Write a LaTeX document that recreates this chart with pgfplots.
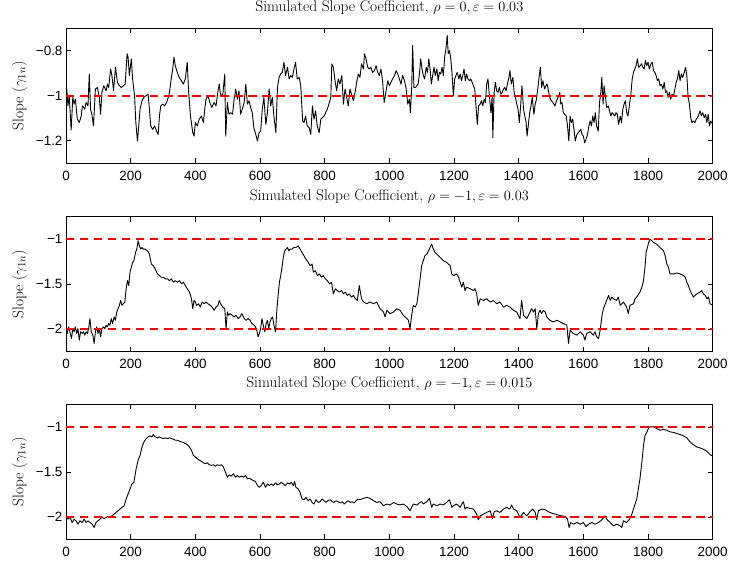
\documentclass[border=0pt]{standalone}
\usepackage{pgfplots}
\pgfplotsset{compat=1.18}
\usepackage{fontspec}
\newfontfamily\arial{Liberation Sans}
\definecolor{refred}{rgb}{1,0,0}
\begin{document}
\begin{tikzpicture}
\pgfplotsset{
  panel/.style={
    scale only axis, width=646.7bp, height=135bp,
    xmin=0, xmax=2000,
    xtick={0,200,...,2000},
    xticklabels={0,200,400,600,800,1000,1200,1400,1600,1800,2000},
    tick align=inside,
    major tick length=5bp,
    tick style={black, line width=0.6bp},
    axis line style={line width=0.6bp},
    ticklabel style={font=\fontsize{13.5}{15}\selectfont\arial},
    xticklabel shift=4bp,
    ylabel={Slope ($\gamma_{1n}$)},
    ylabel style={at={(axis description cs:-0.072,0.5)}, anchor=center, font=\fontsize{15.5}{17}\selectfont},
    title style={at={(axis description cs:0.5,1)}, anchor=base, yshift=10.5bp, font=\fontsize{15.5}{17}\selectfont},
  },
  dat/.style={draw=black, line width=0.9bp, line join=round},
  refl/.style={draw=refred, line width=1.7bp, dash pattern=on 8.5bp off 5.5bp},
}
% ---------- Panel 1 ----------
\begin{axis}[panel, at={(0,0)}, anchor=north west,
  ymin=-1.3, ymax=-0.7, ytick={-1.2,-1,-0.8}, yticklabels={−1.2,−1,−0.8},
  title={Simulated Slope Coefficient, $\rho=0, \varepsilon=0.03$}]
\addplot[dat] coordinates {
(0,-0.97) (2,-0.963) (6,-1.045) (10,-1.000) (16,-1.152) (21,-1.007) (25,-1.037) (29,-1.015) (35,-1.104) (41,-1.119) (47,-1.090) (51,-1.045) (58,-1.060) (62,-1.030) (68,-1.045) (72,-0.903) (76,-1.060) (80,-1.082) (85,-1.134) (91,-0.970) (97,-0.963) (103,-1.007) (107,-1.082) (111,-0.985) (117,-0.955) (124,-0.978) (128,-0.948) (132,-0.963) (138,-0.881) (142,-0.910) (147,-0.978) (153,-0.873) (159,-0.940) (165,-0.955) (171,-0.963) (178,-0.955) (183,-0.948) (189,-0.813) (192,-0.828) (196,-0.910) (202,-0.836) (206,-0.925) (212,-1.000) (216,-1.119) (221,-1.201) (225,-1.134) (229,-1.060) (235,-1.022) (241,-1.007) (247,-1.000) (254,-0.993) (258,-1.060) (262,-1.134) (268,-1.149) (274,-1.134) (280,-1.157) (285,-1.172) (289,-1.090) (293,-1.045) (299,-1.037) (305,-1.045) (311,-1.030) (318,-1.000) (322,-0.963) (326,-0.918) (330,-0.881) (334,-0.828) (338,-0.866) (344,-0.896) (350,-0.918) (357,-0.933) (363,-0.948) (369,-0.925) (375,-0.851) (379,-0.978) (385,-1.090) (392,-1.164) (396,-1.179) (400,-1.119) (406,-1.134) (412,-1.104) (419,-1.090) (425,-1.119) (429,-1.060) (433,-1.015) (439,-1.000) (445,-1.030) (451,-1.052) (458,-1.030) (464,-1.045) (470,-0.978) (474,-0.948) (478,-1.000) (485,-0.993) (491,-0.903)
(494,-1.179) (499,-1.030) (504,-1.082) (509,-1.075) (515,-1.082) (520,-1.015) (525,-0.970) (530,-1.015) (535,-0.978) (540,-1.082) (545,-1.060) (551,-1.030) (556,-0.948) (561,-1.037) (566,-1.022) (571,-1.052) (576,-1.075) (581,-1.142) (587,-1.172) (592,-1.201) (597,-1.164) (602,-1.157) (607,-1.060) (612,-1.007) (618,-1.127) (623,-1.075) (628,-0.970) (633,-1.045) (638,-1.007) (643,-1.090) (649,-1.164) (654,-0.963) (659,-0.918) (664,-0.903) (669,-0.896) (674,-0.851) (679,-0.910) (685,-0.873) (690,-0.925) (695,-0.910) (700,-0.918) (705,-0.881) (710,-0.851) (715,-0.925) (721,-0.918) (726,-0.955) (729,-1.037) (732,-1.112) (736,-1.119) (741,-1.090) (746,-1.134) (752,-1.142) (757,-1.172) (762,-1.045) (767,-1.104) (772,-1.067) (777,-1.134) (783,-1.164) (788,-1.104) (793,-1.097) (798,-1.090) (803,-1.075) (808,-1.060) (813,-1.037) (819,-1.007) (822,-0.858) (827,-0.873) (832,-0.933) (837,-0.978) (842,-0.925) (847,-0.948) (853,-0.910) (858,-1.037) (863,-0.970) (868,-1.007) (873,-1.045) (878,-0.970) (883,-0.993) (889,-1.022) (894,-0.985) (899,-0.940) (904,-0.903) (909,-0.918) (914,-0.858) (920,-0.881) (923,-0.813) (928,-0.836) (933,-0.873) (938,-0.881) (943,-0.873) (948,-0.896) (954,-0.888) (959,-0.866) (964,-0.896) (969,-0.910) (974,-0.881) (979,-0.933) (984,-1.030) (990,-0.978) (995,-0.933) (1000,-0.955)
(1005,-0.940) (1010,-0.925) (1016,-0.910) (1021,-0.888) (1026,-0.903) (1031,-0.925) (1036,-0.948) (1041,-0.910) (1047,-0.933) (1052,-0.970) (1057,-1.037) (1062,-1.015) (1065,-1.075) (1069,-0.970) (1072,-0.776) (1076,-0.963) (1081,-0.963) (1085,-0.955) (1089,-0.948) (1093,-0.903) (1097,-0.836) (1101,-0.881) (1105,-0.910) (1109,-0.925) (1114,-0.873) (1118,-0.896) (1122,-0.836) (1126,-0.881) (1130,-0.948) (1134,-0.910) (1138,-0.873) (1142,-0.910) (1147,-0.881) (1151,-0.933) (1155,-0.896) (1159,-0.903) (1163,-0.873) (1167,-0.910) (1171,-0.828) (1175,-0.791) (1179,-0.731) (1182,-0.813) (1186,-0.799) (1190,-0.836) (1194,-0.903) (1198,-1.000) (1202,-0.925) (1206,-0.910) (1210,-0.896) (1215,-0.925) (1219,-0.903) (1223,-0.933) (1227,-0.910) (1231,-0.881) (1235,-0.933) (1239,-0.903) (1243,-0.925) (1248,-0.933) (1252,-0.925) (1256,-0.940) (1260,-0.955) (1264,-0.970) (1268,-1.045) (1272,-1.127) (1276,-1.045) (1281,-1.037) (1285,-1.022) (1289,-1.045) (1293,-1.015) (1297,-1.030) (1301,-0.948) (1305,-0.925) (1309,-0.993) (1314,-1.075) (1318,-1.000) (1320,-1.187) (1324,-0.985) (1328,-0.940) (1332,-0.978) (1336,-0.985) (1340,-0.963) (1345,-0.993) (1349,-0.985) (1353,-0.970) (1357,-0.963) (1361,-0.978) (1365,-0.948) (1369,-0.925) (1373,-0.888) (1377,-0.948) (1382,-0.918) (1386,-0.985) (1390,-1.007) (1394,-1.037) (1398,-1.060) (1402,-1.119) (1406,-1.045) (1410,-0.955) (1415,-1.060) (1419,-1.090) (1423,-1.119) (1426,-1.179) (1430,-1.127) (1434,-1.075) (1438,-1.045) (1442,-1.007) (1447,-1.082) (1451,-1.037) (1455,-1.015) (1459,-0.970) (1463,-0.918) (1467,-0.873) (1471,-0.963) (1475,-0.933) (1480,-0.970) (1484,-0.955) (1488,-0.948) (1492,-0.978)
(1496,-1.007) (1501,-1.022) (1506,-1.030) (1512,-1.045) (1517,-1.022) (1522,-1.007) (1527,-0.985) (1530,-1.037) (1534,-1.030) (1538,-1.075) (1542,-1.082) (1547,-1.090) (1551,-1.134) (1555,-1.201) (1559,-1.090) (1563,-1.119) (1567,-1.104) (1571,-1.149) (1575,-1.201) (1580,-1.172) (1584,-1.164) (1588,-1.157) (1592,-1.149) (1596,-1.172) (1600,-1.179) (1604,-1.209) (1608,-1.194) (1613,-1.172) (1617,-1.134) (1621,-1.112) (1625,-1.134) (1629,-1.090) (1633,-1.119) (1637,-1.075) (1641,-1.134) (1646,-1.157) (1650,-1.030) (1654,-0.985) (1657,-0.918) (1661,-1.037) (1664,-0.955) (1668,-1.000) (1672,-1.052) (1677,-1.045) (1681,-1.067) (1685,-1.090) (1689,-1.075) (1693,-1.082) (1697,-1.090) (1701,-1.075) (1705,-1.082) (1709,-1.127) (1714,-1.090) (1718,-1.119) (1722,-1.060) (1726,-1.037) (1730,-1.022) (1734,-1.075) (1738,-1.090) (1742,-1.045) (1747,-0.993) (1751,-0.925) (1755,-0.896) (1759,-0.881) (1763,-0.866) (1767,-0.836) (1771,-0.873) (1776,-0.866) (1780,-0.858) (1784,-0.873) (1788,-0.881) (1792,-0.843) (1796,-0.866) (1800,-0.851) (1804,-0.881) (1809,-0.858) (1813,-0.851) (1817,-0.888) (1821,-0.896) (1825,-0.910) (1829,-0.933) (1833,-0.925) (1837,-0.955) (1841,-0.948) (1846,-0.970) (1850,-0.940) (1854,-0.985) (1858,-0.978) (1862,-1.007) (1866,-0.985) (1870,-1.015) (1874,-0.993) (1879,-1.000) (1883,-0.970) (1887,-0.940) (1891,-0.925) (1895,-0.888) (1899,-0.933) (1903,-0.903) (1907,-0.918) (1912,-0.896) (1916,-0.873) (1920,-0.910) (1924,-1.007) (1928,-1.037) (1932,-1.097) (1936,-1.119) (1940,-1.112) (1945,-1.119) (1949,-1.104) (1953,-1.097) (1957,-1.082) (1961,-1.067) (1965,-1.090) (1969,-1.075) (1974,-1.097) (1978,-1.082) (1982,-1.119) (1986,-1.082) (1990,-1.134) (1994,-1.112) (2000,-1.127)
};
\addplot[refl] coordinates {(0,-1) (2000,-1)};
\end{axis}
% ---------- Panel 2 ----------
\begin{axis}[panel, at={(0,-188.4bp)}, anchor=north west,
  ymin=-2.25, ymax=-0.75, ytick={-2,-1.5,-1}, yticklabels={−2,−1.5,−1},
  title={Simulated Slope Coefficient, $\rho=-1, \varepsilon=0.03$}]
\addplot[dat] coordinates {
(0,-1.993) (4,-2.048) (8,-1.974) (12,-2.029) (17,-2.103) (21,-1.993) (25,-2.029) (29,-1.974) (33,-2.048) (37,-1.993) (41,-2.121) (45,-2.029) (50,-2.048) (54,-2.029) (58,-2.066) (62,-2.029) (66,-2.048) (70,-1.993) (74,-1.882) (78,-2.029) (83,-2.066) (87,-2.158) (91,-2.029) (95,-1.974) (99,-2.048) (103,-1.993) (107,-2.084) (111,-1.993) (116,-1.974) (120,-1.993) (124,-1.956) (128,-1.974) (132,-1.937) (136,-1.956) (140,-1.882) (144,-1.937) (149,-1.864) (153,-1.901) (157,-1.809) (161,-1.772) (165,-1.735) (169,-1.680) (173,-1.735) (177,-1.717) (182,-1.698) (186,-1.551) (190,-1.460) (194,-1.515) (198,-1.368) (202,-1.312) (206,-1.257) (210,-1.239) (215,-1.147) (219,-1.110) (223,-1.018) (227,-1.074) (231,-1.110) (235,-1.092) (239,-1.110) (245,-1.110) (252,-1.129) (258,-1.165) (264,-1.276) (270,-1.294) (276,-1.331) (283,-1.386) (289,-1.404) (295,-1.423) (301,-1.423) (307,-1.441) (314,-1.441) (320,-1.460) (326,-1.441) (332,-1.478) (338,-1.460) (344,-1.478) (351,-1.460) (357,-1.496) (363,-1.478) (369,-1.515) (375,-1.551) (382,-1.588) (388,-1.662) (392,-1.772) (396,-1.680) (400,-1.698) (404,-1.735) (410,-1.717) (415,-1.754) (421,-1.698) (427,-1.717) (433,-1.698) (439,-1.717) (446,-1.735) (452,-1.754) (458,-1.790) (464,-1.754) (470,-1.735) (474,-1.680) (478,-1.717) (485,-1.754) (491,-1.772) (495,-1.993) (499,-1.809) (503,-1.845) (507,-1.827) (514,-1.845) (520,-1.864) (526,-1.845) (532,-1.882) (538,-1.864) (544,-1.827) (551,-1.882) (557,-1.901) (563,-1.882) (569,-1.901) (575,-1.937) (582,-1.956) (586,-1.974) (590,-2.011) (594,-2.084) (598,-2.048) (602,-1.993) (606,-1.882) (610,-1.956) (615,-2.029) (619,-1.937) (623,-1.901) (627,-1.993) (631,-1.919) (635,-1.882) (639,-1.864) (643,-1.956) (648,-2.029) (652,-1.790) (656,-1.625) (660,-1.478) (664,-1.404) (668,-1.312) (672,-1.202) (676,-1.129) (681,-1.110) (685,-1.092) (689,-1.129) (693,-1.110) (699,-1.110) (705,-1.092) (711,-1.092) (718,-1.074) (724,-1.110) (730,-1.147) (736,-1.184) (742,-1.221) (749,-1.257) (755,-1.294) (761,-1.276) (765,-1.368) (771,-1.349) (778,-1.404) (784,-1.386) (790,-1.423) (796,-1.404) (802,-1.441) (808,-1.460) (815,-1.496) (821,-1.478) (827,-1.607) (833,-1.551) (839,-1.570) (845,-1.588) (852,-1.570) (858,-1.607) (864,-1.588) (870,-1.625) (876,-1.607) (883,-1.643) (889,-1.625) (895,-1.662) (901,-1.680) (907,-1.515) (914,-1.662) (920,-1.698) (930,-1.717) (940,-1.698) (951,-1.717) (961,-1.698) (971,-1.772) (982,-1.809) (987,-1.864) (992,-1.790) (1002,-1.827) (1013,-1.809) (1023,-1.772) (1033,-1.790) (1043,-1.845) (1054,-1.882) (1059,-1.901) (1064,-1.993) (1069,-1.845) (1074,-1.735) (1080,-1.754) (1085,-1.717) (1090,-1.588) (1095,-1.441) (1100,-1.294) (1105,-1.239) (1110,-1.184) (1116,-1.165) (1121,-1.129) (1126,-1.092) (1131,-1.055) (1136,-1.110) (1141,-1.147) (1147,-1.165) (1157,-1.202) (1167,-1.239) (1177,-1.257) (1188,-1.294) (1193,-1.386) (1198,-1.404) (1208,-1.386) (1214,-1.423) (1219,-1.478) (1224,-1.533) (1229,-1.478) (1234,-1.570) (1239,-1.533) (1250,-1.551) (1260,-1.570) (1265,-1.551) (1270,-1.607) (1275,-1.735) (1281,-1.662) (1291,-1.680) (1301,-1.662) (1312,-1.698) (1322,-1.680) (1332,-1.717) (1342,-1.698) (1353,-1.754) (1363,-1.735) (1373,-1.754) (1384,-1.790) (1394,-1.809) (1404,-1.882) (1409,-1.680) (1415,-1.845) (1425,-1.882) (1435,-1.809) (1440,-1.772) (1446,-1.809) (1451,-1.772) (1456,-1.993) (1461,-1.827) (1466,-1.790) (1471,-1.827) (1476,-1.790) (1482,-1.809) (1487,-1.864) (1497,-1.901) (1507,-1.919) (1518,-1.901) (1528,-1.919) (1538,-1.937) (1549,-1.956) (1554,-2.158) (1559,-2.011) (1569,-2.048) (1580,-2.066) (1590,-2.029) (1600,-2.066) (1605,-2.121) (1610,-2.048) (1621,-2.029) (1631,-2.066) (1636,-2.029) (1641,-2.084) (1647,-2.103) (1652,-2.011) (1657,-1.864) (1662,-1.772) (1672,-1.680) (1678,-1.625) (1683,-1.680) (1688,-1.643) (1693,-1.662) (1703,-1.680) (1708,-1.643) (1714,-1.735) (1724,-1.698) (1734,-1.754) (1739,-1.827) (1744,-1.735) (1755,-1.717) (1760,-1.662) (1765,-1.643) (1775,-1.588) (1781,-1.533) (1786,-1.460) (1791,-1.294) (1794,-1.147) (1798,-1.092) (1802,-1.037) (1806,-1.000) (1812,-1.018) (1817,-1.037) (1827,-1.055) (1837,-1.092) (1848,-1.129) (1853,-1.184) (1858,-1.276) (1863,-1.312) (1868,-1.386) (1879,-1.386) (1889,-1.375) (1899,-1.386) (1910,-1.404) (1915,-1.423) (1920,-1.478) (1925,-1.515) (1930,-1.570) (1935,-1.607) (1940,-1.643) (1951,-1.607) (1961,-1.588) (1966,-1.570) (1971,-1.607) (1977,-1.625) (1982,-1.662) (1987,-1.643) (1992,-1.717) (2000,-1.735)
};
\addplot[refl] coordinates {(0,-1) (2000,-1)};
\addplot[refl] coordinates {(0,-2) (2000,-2)};
\end{axis}
% ---------- Panel 3 ----------
\begin{axis}[panel, at={(0,-376bp)}, anchor=north west,
  ymin=-2.25, ymax=-0.75, ytick={-2,-1.5,-1}, yticklabels={−2,−1.5,−1},
  title={Simulated Slope Coefficient, $\rho=-1, \varepsilon=0.015$}]
\addplot[dat] coordinates {
(0,-2.007) (6,-2.026) (12,-2.007) (19,-2.063) (25,-2.026) (31,-2.045) (37,-2.082) (43,-2.045) (50,-2.063) (56,-2.026) (62,-2.063) (68,-2.045) (74,-2.063) (81,-2.082) (87,-2.119) (93,-2.063) (99,-2.045) (105,-2.026) (111,-2.007) (118,-2.019) (124,-2.007) (130,-1.996) (136,-2.007) (142,-1.989) (149,-1.970) (155,-1.951) (161,-1.933) (167,-1.914) (173,-1.895) (180,-1.877) (186,-1.802) (192,-1.746) (198,-1.690) (204,-1.634) (210,-1.616) (217,-1.466) (223,-1.373) (229,-1.317) (235,-1.224) (241,-1.168) (248,-1.131) (254,-1.112) (260,-1.101) (266,-1.112) (270,-1.086) (276,-1.112) (283,-1.123) (289,-1.112) (295,-1.123) (301,-1.131) (307,-1.123) (314,-1.131) (320,-1.123) (326,-1.131) (332,-1.138) (338,-1.149) (344,-1.149) (351,-1.160) (357,-1.168) (363,-1.175) (369,-1.187) (375,-1.198) (382,-1.224) (388,-1.261) (394,-1.317) (400,-1.336) (406,-1.354) (413,-1.373) (419,-1.384) (425,-1.399) (431,-1.410) (437,-1.399) (443,-1.422) (450,-1.429) (456,-1.422) (462,-1.437) (468,-1.422) (474,-1.429) (481,-1.422) (487,-1.448) (493,-1.504) (499,-1.560) (505,-1.534) (511,-1.548) (518,-1.522) (524,-1.560) (530,-1.541) (536,-1.560) (542,-1.548) (549,-1.560) (555,-1.541) (561,-1.578) (567,-1.571) (573,-1.586) (580,-1.597) (586,-1.608) (592,-1.653) (598,-1.672) (604,-1.653) (610,-1.616) (617,-1.672) (623,-1.634) (629,-1.653) (635,-1.634) (641,-1.653) (648,-1.623) (654,-1.645) (660,-1.634) (666,-1.616) (672,-1.634) (678,-1.653) (685,-1.623) (691,-1.634) (697,-1.616) (703,-1.653) (707,-1.608) (711,-1.672) (718,-1.690) (724,-1.728) (730,-1.802) (736,-1.810) (742,-1.784) (749,-1.821) (755,-1.802) (761,-1.840) (767,-1.858) (773,-1.810) (780,-1.840) (786,-1.832) (792,-1.802) (798,-1.821) (804,-1.840) (810,-1.821) (817,-1.810) (823,-1.832) (829,-1.840) (835,-1.821) (841,-1.832) (848,-1.847) (854,-1.832) (860,-1.858) (866,-1.840) (872,-1.821) (879,-1.840) (885,-1.832) (891,-1.847) (897,-1.821) (903,-1.802) (909,-1.810) (920,-1.795) (930,-1.784) (940,-1.795) (951,-1.821) (961,-1.840) (971,-1.832) (982,-1.877) (992,-1.858) (1002,-1.869) (1013,-1.840) (1023,-1.858) (1033,-1.869) (1043,-1.858) (1054,-1.884) (1064,-1.933) (1069,-1.895) (1074,-1.858) (1085,-1.869) (1095,-1.840) (1100,-1.832) (1105,-1.858) (1116,-1.832) (1124,-1.795) (1131,-1.895) (1136,-1.858) (1147,-1.877) (1157,-1.858) (1167,-1.869) (1177,-1.840) (1186,-1.810) (1193,-1.895) (1198,-1.877) (1208,-1.858) (1219,-1.895) (1224,-1.858) (1229,-1.832) (1234,-1.914) (1239,-1.895) (1250,-1.907) (1260,-1.914) (1270,-1.970) (1275,-2.033) (1281,-1.989) (1291,-1.970) (1301,-1.951) (1312,-1.933) (1319,-2.019) (1324,-1.944) (1332,-1.933) (1342,-1.951) (1353,-1.914) (1363,-1.895) (1373,-1.914) (1378,-1.869) (1384,-1.914) (1394,-1.933) (1404,-2.007) (1415,-1.951) (1425,-1.989) (1435,-1.944) (1443,-1.914) (1451,-1.951) (1456,-2.033) (1461,-1.933) (1471,-1.914) (1482,-1.922) (1492,-1.944) (1502,-1.959) (1513,-1.970) (1523,-1.981) (1533,-1.989) (1543,-1.996) (1551,-2.026) (1556,-2.119) (1561,-2.063) (1569,-2.082) (1580,-2.063) (1590,-2.082) (1600,-2.063) (1608,-2.108) (1616,-2.082) (1626,-2.063) (1636,-2.082) (1647,-2.063) (1657,-2.033) (1667,-1.989) (1672,-2.026) (1683,-2.063) (1693,-2.101) (1703,-2.082) (1714,-2.101) (1719,-2.119) (1724,-2.045) (1734,-2.063) (1743,-2.026) (1750,-1.970) (1755,-1.914) (1760,-1.858) (1765,-1.802) (1770,-1.690) (1775,-1.578) (1781,-1.392) (1786,-1.205) (1791,-1.093) (1796,-1.063) (1801,-1.019) (1806,-1.000) (1817,-1.000) (1827,-1.019) (1837,-1.037) (1848,-1.030) (1858,-1.037) (1868,-1.056) (1879,-1.063) (1889,-1.075) (1899,-1.086) (1910,-1.101) (1920,-1.123) (1930,-1.168) (1940,-1.198) (1951,-1.224) (1961,-1.235) (1971,-1.250) (1982,-1.272) (1992,-1.310) (2000,-1.325)
};
\addplot[refl] coordinates {(0,-1) (2000,-1)};
\addplot[refl] coordinates {(0,-2) (2000,-2)};
\end{axis}
\pgfresetboundingbox
\path[use as bounding box] (-66bp,28.3bp) rectangle (664bp,-535.7bp);
\end{tikzpicture}
\end{document}
